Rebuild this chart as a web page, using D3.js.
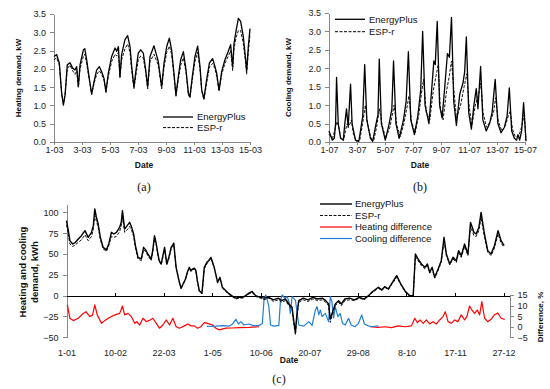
<!DOCTYPE html>
<html>
<head>
<meta charset="utf-8">
<script src="https://cdn.jsdelivr.net/npm/d3@7"></script>
<style>
body { margin: 0; background: #fff; }
svg { font-family: "Liberation Sans", Arial, sans-serif; }
.axis path, .axis line { stroke: #888; shape-rendering: crispEdges; }
.axis text { font-size: 9px; fill: #222; }
.zero path, .zero line { stroke: #000; shape-rendering: crispEdges; }
.title { font-size: 8px; font-weight: bold; fill: #111; }
.title.big { font-size: 9.5px; }
.title.date { font-size: 8.5px; }
.legend text { font-size: 9.5px; fill: #111; }
.caption { font-family: "Liberation Serif", "Times New Roman", serif; font-size: 12px; fill: #111; }
</style>
</head>
<body>
<script>
/*
Heating / cooling demand charts, three panels
*/

// tick labels
var heatTickDays = [0, 2, 4, 6, 8, 10, 12, 14];
var heatTickLabels = ["1-03", "3-03", "5-03", "7-03", "9-03", "11-03", "13-03", "15-03"];
var coolTickLabels = ["1-07", "3-07", "5-07", "7-07", "9-07", "11-07", "13-07", "15-07"];
var demandTicks = [0, 0.5, 1, 1.5, 2, 2.5, 3, 3.5];
var yearTickDays = [0, 40, 80, 120, 160, 200, 240, 280, 320, 360];
var yearTickLabels = ["1-01", "10-02", "22-03", "1-05", "10-06", "20-07", "29-08", "8-10", "17-11", "27-12"];
var yearLeftTicks = [-50, -25, 0, 25, 50, 75, 100];
var yearRightTicks = [-5, 0, 5, 10, 15];

// (a) heating demand, March, [day, kW]
var heatEnergyPlus = [[0,2.34],[0.19,2.39],[0.38,2.16],[0.55,1.33],[0.67,1.01],[0.79,1.28],[0.95,2.11],[1.14,2.17],[1.33,2.02],[1.5,1.97],[1.62,2.06],[1.74,1.51],[1.86,2.11],[2.1,2.52],[2.2,2.55],[2.33,2.25],[2.52,1.74],[2.69,1.31],[2.86,1.65],[3.05,1.97],[3.24,2.06],[3.4,1.93],[3.57,1.74],[3.71,1.38],[3.88,1.88],[4.12,2.34],[4.36,2.57],[4.48,2.48],[4.6,2.61],[4.71,1.79],[4.83,2.39],[5.07,2.8],[5.26,2.91],[5.43,2.61],[5.55,2.06],[5.71,1.51],[5.86,1.97],[6.02,2.43],[6.19,2.52],[6.38,2.43],[6.55,1.97],[6.69,1.51],[6.86,2.34],[7.14,2.63],[7.45,2.2],[7.69,1.51],[7.86,2.16],[8.05,2.61],[8.24,2.84],[8.4,2.52],[8.57,1.88],[8.71,1.28],[8.88,1.79],[9.05,2.25],[9.24,2.47],[9.43,1.97],[9.6,1.33],[9.71,1.24],[9.88,1.79],[10.07,2.34],[10.26,2.62],[10.43,2.06],[10.55,1.42],[10.71,1.19],[10.9,1.7],[11.1,2.16],[11.33,2.28],[11.5,2.06],[11.62,1.88],[11.79,1.42],[11.98,1.93],[12.21,2.25],[12.45,2.48],[12.62,2.66],[12.76,2.06],[12.86,2.7],[13,3.03],[13.17,3.38],[13.33,3.3],[13.52,2.89],[13.69,2.25],[13.76,1.95],[13.88,2.61],[14,3.1]];
var heatEspr = [[0,2.25],[0.19,2.3],[0.38,2.1],[0.55,1.3],[0.67,1.05],[0.79,1.3],[0.95,2.0],[1.14,2.1],[1.33,1.95],[1.5,1.85],[1.62,1.95],[1.74,1.5],[1.86,2.0],[2.1,2.35],[2.2,2.4],[2.33,2.15],[2.52,1.7],[2.69,1.3],[2.86,1.6],[3.05,1.85],[3.24,1.95],[3.4,1.85],[3.57,1.7],[3.71,1.35],[3.88,1.8],[4.12,2.2],[4.36,2.4],[4.48,2.35],[4.6,2.45],[4.71,1.75],[4.83,2.25],[5.07,2.55],[5.26,2.68],[5.43,2.45],[5.55,1.95],[5.71,1.45],[5.86,1.85],[6.02,2.25],[6.19,2.35],[6.38,2.3],[6.55,1.9],[6.69,1.45],[6.86,2.2],[7.14,2.4],[7.45,2.1],[7.69,1.45],[7.86,2.05],[8.05,2.45],[8.24,2.62],[8.4,2.4],[8.57,1.8],[8.71,1.25],[8.88,1.7],[9.05,2.1],[9.24,2.3],[9.43,1.9],[9.6,1.3],[9.71,1.2],[9.88,1.7],[10.07,2.2],[10.26,2.45],[10.43,2.0],[10.55,1.4],[10.71,1.15],[10.9,1.6],[11.1,2.05],[11.33,2.15],[11.5,2.0],[11.62,1.8],[11.79,1.4],[11.98,1.85],[12.21,2.15],[12.45,2.35],[12.62,2.5],[12.76,1.95],[12.86,2.55],[13,2.85],[13.17,3.05],[13.33,3.05],[13.52,2.7],[13.69,2.15],[13.76,1.85],[13.88,2.45],[14,2.95]];

// (b) cooling demand, July, [day, kW]
var coolEnergyPlus = [[0,0.3],[0.24,0.05],[0.38,0.1],[0.47,0.5],[0.54,1.75],[0.66,0.5],[0.83,0.1],[1.02,0.05],[1.13,0.5],[1.25,0.9],[1.37,0.4],[1.54,1.57],[1.65,0.5],[1.89,0.05],[2.13,0.02],[2.25,0.3],[2.41,0.7],[2.55,2.1],[2.7,0.6],[2.96,0.1],[3.12,0.02],[3.31,0.4],[3.5,0.75],[3.59,2.25],[3.74,0.5],[4.02,0.05],[4.3,0.5],[4.49,0.9],[4.61,2.2],[4.78,0.5],[5.01,0.1],[5.32,0.6],[5.51,1.1],[5.67,2.45],[5.84,0.6],[6.1,0.2],[6.34,0.7],[6.55,1.4],[6.69,3.0],[6.86,1.0],[7.14,0.5],[7.33,1.4],[7.49,2.2],[7.59,2.1],[7.73,3.27],[7.9,1.0],[8.08,0.65],[8.27,1.5],[8.46,2.4],[8.6,2.3],[8.75,3.38],[8.91,1.1],[9.1,0.45],[9.34,1.3],[9.57,1.6],[9.69,1.9],[9.81,2.85],[9.98,0.8],[10.17,0.35],[10.35,1.0],[10.52,1.45],[10.64,0.9],[10.83,2.05],[10.99,0.6],[11.23,0.3],[11.47,0.5],[11.65,0.8],[11.87,1.7],[12.06,0.5],[12.29,0.25],[12.53,0.4],[12.72,0.7],[12.88,1.47],[13.05,0.3],[13.24,0.1],[13.4,0.05],[13.5,0.2],[13.62,0.05],[13.76,0.3],[13.9,1.07],[14.07,0.02]];
var coolEspr = [[0,0.2],[0.25,0.1],[0.4,0.3],[0.55,0.55],[0.7,0.4],[0.85,0.1],[1.05,0.05],[1.2,0.35],[1.3,0.5],[1.45,0.45],[1.6,0.6],[1.75,0.2],[1.95,0.02],[2.2,0.05],[2.4,0.5],[2.6,1.0],[2.75,0.5],[3.0,0.1],[3.2,0.05],[3.4,0.4],[3.6,0.9],[3.8,0.45],[4.05,0.1],[4.35,0.4],[4.55,0.8],[4.65,1.0],[4.85,0.45],[5.1,0.15],[5.35,0.5],[5.6,1.0],[5.7,1.25],[5.9,0.55],[6.15,0.25],[6.4,0.7],[6.6,1.3],[6.75,1.7],[6.95,0.8],[7.2,0.6],[7.45,1.4],[7.65,1.8],[7.8,2.1],[7.95,0.9],[8.15,0.6],[8.4,1.4],[8.6,1.8],[8.75,2.2],[8.9,1.5],[9.1,0.65],[9.4,1.0],[9.65,1.5],[9.85,1.85],[10.0,1.0],[10.2,0.45],[10.45,1.0],[10.7,1.3],[10.85,1.6],[11.0,0.8],[11.25,0.4],[11.5,0.55],[11.75,0.8],[11.9,1.2],[12.1,0.55],[12.35,0.3],[12.6,0.45],[12.8,0.7],[12.95,0.85],[13.1,0.35],[13.3,0.15],[13.55,0.15],[13.75,0.4],[13.95,0.75],[14.07,0.05]];

// (c) whole year, [day of year, kWh]
var yearEnergyPlus = [[0,90],[1.5,78],[2.8,66],[5.1,62],[7.4,64],[9.7,68],[12.3,72],[15.2,78],[17.9,70],[20.6,76],[22.1,84],[23.3,104],[24.5,95],[26.1,86],[27.9,70],[30.2,58],[32.9,55],[34.8,62],[37,76],[39,74],[41.1,76],[43.8,82],[45.1,88],[46.1,102],[47.9,80],[50,84],[52,88],[53.7,82],[55.3,74],[56.8,60],[58.9,46],[61.6,44],[63.5,58],[65.2,55],[67,50],[69.8,44],[71.1,55],[72.5,72],[74,62],[75.3,50],[76.4,42],[78,38],[79.4,48],[80.8,58],[82.6,38],[84.3,46],[86.2,58],[88.4,63],[89.2,50],[90.3,34],[93,16],[94.4,9],[96,14],[98,20],[99.5,28],[101.2,34],[102.4,30],[103.9,32],[105.4,33],[106.6,30],[107.8,18],[109.4,6],[111.6,3],[113.5,34],[115.6,40],[117.1,42],[119,46],[120.3,40],[121.7,34],[123.1,25],[124.5,16],[126.4,22],[128.4,10],[131.3,6],[133.3,3],[135.2,1],[137.2,-1],[139.5,-3],[142.1,-2],[145,-2],[147.5,0],[150.3,3],[152.9,5],[155.8,0],[159.7,-2],[162.7,-3],[166.6,-2],[170.5,-5],[174.4,-3],[177.4,-6],[180.3,-4],[183.2,-10],[185.8,-14],[187.2,-30],[188.6,-44],[189.6,-25],[191.3,-6],[195,-3],[198.9,-5],[202.9,-2],[206.8,-4],[210.7,-3],[213.6,-6],[215.9,-10],[217.3,-28],[218.6,-22],[221.4,-10],[224.1,-6],[226.4,-10],[229.3,-4],[233.2,-3],[237.2,-5],[241.1,-2],[245,-4],[248.9,0],[251.4,4],[256.9,10],[259.7,7],[262.3,11],[265.1,8],[267.7,14],[272,24],[275.4,14],[278.7,6],[282.8,0],[285.6,0],[287.4,50],[289.6,44],[292.4,38],[295.2,34],[297.3,38],[299.2,28],[301.2,34],[303.3,22],[306.1,32],[308.7,42],[311,70],[312.9,50],[315.7,38],[318.4,46],[321.1,42],[323,54],[325.2,48],[327.9,62],[330.7,50],[332.8,88],[335.6,76],[337.5,74],[339.7,82],[341.5,100],[344.3,74],[347,54],[349.7,50],[352.5,60],[355.5,78],[358,66],[360.5,60]];
var yearEspr = [[0,85],[1.5,73],[2.8,62],[5.1,59],[7.4,61],[9.7,64],[12.3,67],[15.2,73],[17.9,66],[20.6,71],[22.1,80],[23.3,96],[24.5,90],[26.1,82],[27.9,67],[30.2,56],[32.9,53],[34.8,60],[37,71],[39,70],[41.1,71],[43.8,77],[45.1,84],[46.1,94],[47.9,76],[50,79],[52,83],[53.7,78],[55.3,71],[56.8,57],[58.9,44],[61.6,42],[63.5,55],[65.2,53],[67,48],[69.8,42],[71.1,53],[72.5,68],[74,60],[75.3,48],[76.4,41],[78,37],[79.4,46],[80.8,56],[82.6,37],[84.3,44],[86.2,56],[88.4,61],[89.2,49],[90.3,33],[93,15],[94.4,8],[96,13],[98,19],[99.5,27],[101.2,33],[102.4,29],[103.9,31],[105.4,32],[106.6,29],[107.8,17],[109.4,5],[111.6,2],[113.5,32],[115.6,38],[117.1,41],[119,45],[120.3,39],[121.7,33],[123.1,24],[124.5,15],[126.4,21],[128.4,9],[131.3,5],[133.3,2],[135.2,0],[137.2,-2],[139.5,-4],[142.1,-3],[145,-3],[147.5,-1],[150.3,2],[152.9,4],[155.8,-1],[159.7,-3],[162.7,-5],[166.6,-3],[170.5,-7],[174.4,-5],[177.4,-8],[180.3,-6],[183.2,-12],[185.8,-16],[187.2,-34],[188.6,-47],[189.6,-28],[191.3,-8],[195,-5],[198.9,-7],[202.9,-4],[206.8,-6],[210.7,-5],[213.6,-8],[215.9,-12],[217.3,-32],[218.6,-25],[221.4,-12],[224.1,-8],[226.4,-12],[229.3,-6],[233.2,-5],[237.2,-6],[241.1,-3],[245,-5],[248.9,-1],[251.4,3],[256.9,9],[259.7,6],[262.3,10],[265.1,7],[267.7,13],[272,22],[275.4,13],[278.7,5],[282.8,-1],[285.6,0],[287.4,47],[289.6,42],[292.4,36],[295.2,32],[297.3,36],[299.2,27],[301.2,32],[303.3,21],[306.1,30],[308.7,40],[311,66],[312.9,48],[315.7,37],[318.4,44],[321.1,40],[323,51],[325.2,46],[327.9,59],[330.7,48],[332.8,83],[335.6,72],[337.5,71],[339.7,78],[341.5,94],[344.3,70],[347,52],[349.7,48],[352.5,57],[355.5,74],[358,63],[360.5,58]];
// differences in %, right axis (null = no heating)
var heatingDiff = [[0.7,10.3],[2.8,4.0],[5.6,2.9],[9.7,4.0],[13.8,6.3],[16,7.1],[19.3,4.8],[21.5,5.6],[23.3,10.3],[25.3,5.6],[28.8,1.6],[31.6,2.9],[34.4,4.0],[37,4.8],[39.9,5.6],[43.8,6.3],[46.1,9.8],[47.9,5.6],[50.7,6.3],[53.4,4.8],[56.2,1.6],[58,2.4],[60.3,0.8],[63,4.0],[65.8,2.4],[69,3.2],[71.1,4.0],[74,1.6],[76.6,-0.7],[79.4,0.8],[82.1,3.2],[84.9,0.8],[87.6,4.0],[90.3,0.0],[93,-0.7],[97.1,0.4],[99.9,1.3],[102.6,0.4],[105.3,0.4],[108,-0.7],[110.7,0.0],[113.5,1.9],[116.2,1.6],[120.3,0.8],[123.1,-0.7],[125.8,-1.5],[131.3,-0.7],[136.7,-0.6],[142.2,-0.4],[150.4,-0.3],[158.6,0.0],null,[250.1,0.0],[256.9,-0.3],[262.3,0.0],[267.7,-0.4],[273.3,0.4],[278.7,0.0],[284.2,0.4],[286.9,4.0],[289.1,1.9],[291.1,3.2],[293.8,1.6],[296.5,3.2],[299.2,1.3],[301.9,2.4],[304.7,1.3],[307.4,3.2],[310.2,4.8],[312,7.1],[314.3,2.4],[317,1.6],[319.7,3.2],[322.4,2.4],[325.2,5.6],[327.9,3.2],[329.8,4.8],[332,9.8],[334,7.9],[336.1,6.3],[338.3,7.9],[340.3,5.6],[342.1,11.9],[344.4,4.0],[347,2.4],[349.7,3.5],[352.3,5.5],[355.3,6.5],[358,4.0],[361,3.5]];
var coolingDiff = [[115.6,0.2],[123.1,0.3],[128.5,0.5],[134,0.3],[136.7,1.2],[139.5,3.5],[141.6,1.3],[143.6,2.4],[146.2,0.8],[150.4,1.3],[154.4,0.4],[158.6,0.6],[161.3,1.5],[162.7,12.6],[164.1,15],[165.4,12.6],[166.7,9.5],[168.1,0.8],[170.8,0.3],[174.9,0.6],[176.3,12.6],[177.7,15],[179.8,13.5],[181.8,14.2],[183.2,11.9],[184.4,6.3],[185.8,14.2],[188.6,12.6],[191.3,0.8],[195.4,0.3],[199.5,2.4],[202.3,0.6],[205,7.9],[206.4,9.5],[207.8,5.6],[209.1,7.9],[210.5,4.8],[213.2,6.3],[215.9,2.4],[217.3,14.2],[218.6,11.9],[220,4.0],[221.4,9.5],[223.5,4.8],[225.4,6.3],[227.4,1.6],[229.6,0.8],[232.3,4.0],[234.5,0.8],[237.7,0.0],[240.5,1.6],[243.2,5.6],[245.4,1.3],[248.7,0.4],[251.4,0.0],[256.9,0.4]];

var svgWidth = 550;
var svgHeight = 389;
var svg = null;

function initSVG(){
	svg = d3.select("body")
		.append("svg")
			.attr("width", svgWidth)
			.attr("height", svgHeight);

	buildDemandPanel({left: 54, right: 250, top: 14, bottom: 142, labels: heatTickLabels,
		ep: heatEnergyPlus, esp: heatEspr, title: "Heating demand, kW", titleX: 18,
		legendX: 163, legendY: 117, legendGap: 10.6, captionX: 144, caption: "(a)"});
	buildDemandPanel({left: 329, right: 525, top: 13, bottom: 142, labels: coolTickLabels,
		ep: coolEnergyPlus, esp: coolEspr, title: "Cooling demand, kW", titleX: 288,
		legendX: 335, legendY: 19.3, legendGap: 12.4, captionX: 420, caption: "(b)"});
	buildYearPanel();
};

function styleLine(path, colour, width, dash){
	path.attr("fill", "none")
		.attr("stroke", colour)
		.attr("stroke-width", width)
		.attr("stroke-linejoin", "round");
	if(dash) path.attr("stroke-dasharray", dash);
	return path;
};

function buildDemandPanel(p){
	var xScale = d3.scaleLinear().domain([0, 14]).range([p.left, p.right]);
	var yScale = d3.scaleLinear().domain([0, 3.5]).range([p.bottom, p.top]);
	var g = svg.append("g");

	g.append("g")
		.attr("class", "axis")
		.attr("transform", "translate(0," + p.bottom + ")")
		.call(d3.axisBottom(xScale)
			.tickValues(heatTickDays)
			.tickFormat(function(d, i){ return p.labels[i]; })
			.tickSize(3).tickPadding(1.5).tickSizeOuter(0));

	g.append("g")
		.attr("class", "axis")
		.attr("transform", "translate(" + p.left + ",0)")
		.call(d3.axisLeft(yScale)
			.tickValues(demandTicks)
			.tickFormat(d3.format(".1f"))
			.tickSize(4).tickPadding(4).tickSizeOuter(0));

	var line = d3.line()
		.x(function(d){ return xScale(d[0]); })
		.y(function(d){ return yScale(d[1]); });

	styleLine(g.append("path").datum(p.esp).attr("d", line), "#111", 1, "3,1.5");
	styleLine(g.append("path").datum(p.ep).attr("d", line), "#000", 1.3);

	//axis titles
	g.append("text")
		.attr("class", "title")
		.attr("transform", "translate(" + p.titleX + "," + ((p.top + p.bottom) / 2) + ") rotate(-90)")
		.attr("text-anchor", "middle")
		.attr("dy", "0.35em")
		.text(p.title);
	g.append("text")
		.attr("class", "title date")
		.attr("x", p.captionX)
		.attr("y", 165)
		.attr("text-anchor", "middle")
		.attr("dy", "0.35em")
		.text("Date");
	g.append("text")
		.attr("class", "caption")
		.attr("x", p.captionX)
		.attr("y", 187)
		.attr("text-anchor", "middle")
		.attr("dy", "0.35em")
		.text(p.caption);

	var legend = g.append("g").attr("class", "legend");
	var items = [{name: "EnergyPlus", dash: null}, {name: "ESP-r", dash: "3,1.5"}];
	items.forEach(function(it, i){
		var ly = p.legendY + i * p.legendGap;
		styleLine(legend.append("path").attr("d", "M" + p.legendX + "," + ly + "H" + (p.legendX + 30)), "#000", it.dash ? 1 : 1.3, it.dash);
		legend.append("text")
			.attr("x", p.legendX + 34)
			.attr("y", ly)
			.attr("dy", "0.35em")
			.text(it.name);
	});
};

function buildYearPanel(){
	var xScale = d3.scaleLinear().domain([0, 365]).range([66.5, 509.6]);
	var yScale = d3.scaleLinear().domain([-50, 110]).range([337.3, 204]);
	var yRight = d3.scaleLinear().domain([-5, 15]).range([337.3, 295]);
	var g = svg.append("g");

	g.append("g")
		.attr("class", "axis")
		.attr("transform", "translate(" + xScale(0) + ",0)")
		.call(d3.axisLeft(yScale)
			.tickValues(yearLeftTicks)
			.tickSize(4).tickPadding(4).tickSizeOuter(0));

	g.append("g")
		.attr("class", "axis")
		.attr("transform", "translate(" + xScale(365) + ",0)")
		.call(d3.axisRight(yRight)
			.tickValues(yearRightTicks)
			.tickSize(4).tickPadding(4).tickSizeOuter(0));

	//date labels sit low, under the -50 line
	var bottom = g.append("g")
		.attr("class", "axis")
		.attr("transform", "translate(0," + yScale(-50) + ")")
		.call(d3.axisBottom(xScale)
			.tickValues(yearTickDays)
			.tickFormat(function(d, i){ return yearTickLabels[i]; })
			.tickSize(0).tickPadding(12));
	bottom.select(".domain").remove();

	//zero line
	g.append("g")
		.attr("class", "zero")
		.attr("transform", "translate(0," + yScale(0) + ")")
		.call(d3.axisTop(xScale)
			.tickValues(yearTickDays.slice(1))
			.tickFormat("")
			.tickSize(3).tickSizeOuter(0));

	var lineLeft = d3.line()
		.x(function(d){ return xScale(d[0]); })
		.y(function(d){ return yScale(d[1]); });
	var lineRight = d3.line()
		.defined(function(d){ return d !== null; })
		.x(function(d){ return xScale(d[0]); })
		.y(function(d){ return yRight(d[1]); });

	styleLine(g.append("path").datum(heatingDiff).attr("d", lineRight), "#ff0000", 1.2);
	styleLine(g.append("path").datum(coolingDiff).attr("d", lineRight), "#1f7fd6", 1.2);
	styleLine(g.append("path").datum(yearEspr).attr("d", lineLeft), "#111", 1, "3,1.5");
	styleLine(g.append("path").datum(yearEnergyPlus).attr("d", lineLeft), "#000", 1.4);

	g.append("text")
		.attr("class", "title big")
		.attr("transform", "translate(23,272) rotate(-90)")
		.attr("text-anchor", "middle")
		.attr("dy", "0.35em")
		.text("Heating and cooling");
	g.append("text")
		.attr("class", "title big")
		.attr("transform", "translate(34.5,272) rotate(-90)")
		.attr("text-anchor", "middle")
		.attr("dy", "0.35em")
		.text("demand, kWh");
	g.append("text")
		.attr("class", "title")
		.attr("transform", "translate(540,317) rotate(-90)")
		.attr("text-anchor", "middle")
		.attr("dy", "0.35em")
		.text("Difference, %");
	g.append("text")
		.attr("class", "title date")
		.attr("x", 289)
		.attr("y", 360)
		.attr("text-anchor", "middle")
		.attr("dy", "0.35em")
		.text("Date");
	g.append("text")
		.attr("class", "caption")
		.attr("x", 279)
		.attr("y", 379)
		.attr("text-anchor", "middle")
		.attr("dy", "0.35em")
		.text("(c)");

	var legend = g.append("g").attr("class", "legend");
	var items = [
		{name: "EnergyPlus", colour: "#000", width: 1.4, dash: null},
		{name: "ESP-r", colour: "#111", width: 1, dash: "3,1.5"},
		{name: "Heating difference", colour: "#ff0000", width: 1.2, dash: null},
		{name: "Cooling difference", colour: "#1f7fd6", width: 1.2, dash: null}
	];
	items.forEach(function(it, i){
		var ly = 204 + i * 11.5;
		styleLine(legend.append("path").attr("d", "M320," + ly + "H352"), it.colour, it.width, it.dash);
		legend.append("text")
			.attr("x", 355)
			.attr("y", ly)
			.attr("dy", "0.35em")
			.text(it.name);
	});
};

initSVG();
</script>
</body>
</html>
